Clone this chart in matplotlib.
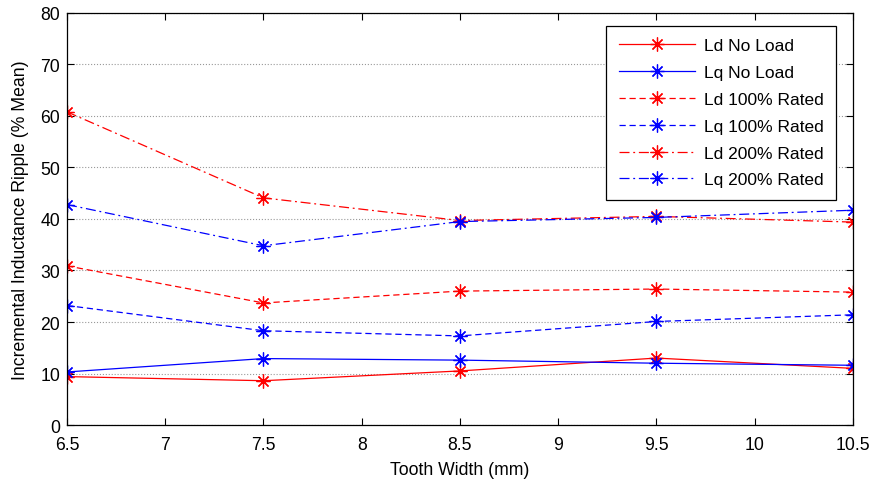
import matplotlib.pyplot as plt

plt.rcParams['font.family'] = ['Liberation Sans', 'DejaVu Sans']

tooth_width = [6.5, 7.5, 8.5, 9.5, 10.5]

ld_no_load = [9.4, 8.6, 10.5, 13.0, 11.0]
lq_no_load = [10.3, 12.9, 12.6, 12.0, 11.6]
ld_100 = [30.9, 23.7, 26.0, 26.4, 25.8]
lq_100 = [23.2, 18.3, 17.3, 20.1, 21.4]
ld_200 = [60.8, 44.1, 39.7, 40.5, 39.4]
lq_200 = [42.8, 34.8, 39.5, 40.3, 41.7]

series = [
    ("Ld No Load", ld_no_load, 'red', '-'),
    ("Lq No Load", lq_no_load, 'blue', '-'),
    ("Ld 100% Rated", ld_100, 'red', (0, (5, 3))),
    ("Lq 100% Rated", lq_100, 'blue', (0, (5, 3))),
    ("Ld 200% Rated", ld_200, 'red', (0, (8, 3, 1.5, 3))),
    ("Lq 200% Rated", lq_200, 'blue', (0, (8, 3, 1.5, 3))),
]

# asterisk made of a plus and a cross, eight spokes
star = (8, 2, 0)

fig = plt.figure(figsize=(8.72, 4.81), dpi=100)
ax = fig.add_axes([0.0768, 0.1143, 0.9012, 0.8567])

for label, vals, color, ls in series:
    ax.plot(tooth_width, vals, color=color, linestyle=ls, linewidth=0.9,
            marker=star, markersize=10, markeredgewidth=0.9, label=label)

ax.set_xlim(6.5, 10.5)
ax.set_ylim(0, 80)
ax.set_xticks([6.5, 7, 7.5, 8, 8.5, 9, 9.5, 10, 10.5])
ax.set_xticklabels(['6.5', '7', '7.5', '8', '8.5', '9', '9.5', '10', '10.5'])
ax.set_yticks(range(0, 81, 10))
ax.yaxis.grid(True, linestyle=':', color='#999999', linewidth=0.8)
ax.tick_params(direction='in', top=True, right=True, labelsize=12.7, length=5)
ax.tick_params(axis='x', pad=8)
ax.tick_params(axis='y', pad=5)
for sp in ax.spines.values():
    sp.set_linewidth(0.9)

ax.set_xlabel("Tooth Width (mm)", fontsize=12.7, labelpad=6)
ax.set_ylabel("Incremental Inductance Ripple (% Mean)", fontsize=12.7, labelpad=8)

leg = ax.legend(loc='upper right', bbox_to_anchor=(0.978, 0.968), borderaxespad=0,
                fontsize=12.5, fancybox=False, edgecolor='black', framealpha=1,
                handlelength=4.4, handletextpad=0.5, labelspacing=0.67, borderpad=0.7)
leg.get_frame().set_linewidth(0.9)

fig.savefig('out.png', dpi=100)
